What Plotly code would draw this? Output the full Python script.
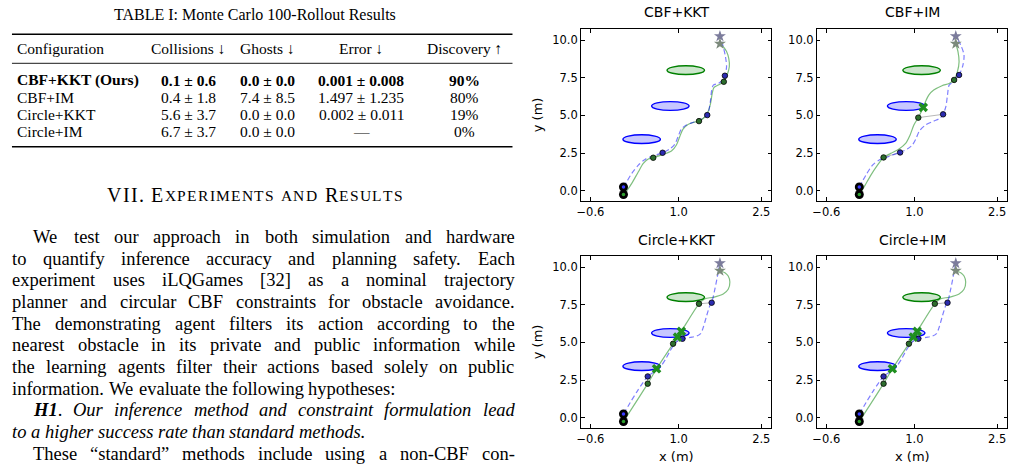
import plotly.graph_objects as go

W, H = 1014, 472


def px(x):
    return x / W


def py(y):
    return 1 - y / H


# ------------------------------------------------------------------ data
table_title = "TABLE I: Monte Carlo 100-Rollout Results"
table_headers = ["Configuration", "Collisions ↓", "Ghosts ↓", "Error ↓", "Discovery ↑"]
configs = ["CBF+KKT (Ours)", "CBF+IM", "Circle+KKT", "Circle+IM"]
collisions = ["0.1 ± 0.6", "0.4 ± 1.8", "5.6 ± 3.7", "6.7 ± 3.7"]
ghosts = ["0.0 ± 0.0", "7.4 ± 8.5", "0.0 ± 0.0", "0.0 ± 0.0"]
errors = ["0.001 ± 0.008", "1.497 ± 1.235", "0.002 ± 0.011", "—"]
discovery = ["90%", "80%", "19%", "0%"]

section_heading = "VII. Experiments and Results"

body_text = [
    "We test our approach in both simulation and hardware",
    "to quantify inference accuracy and planning safety. Each",
    "experiment uses iLQGames [32] as a nominal trajectory",
    "planner and circular CBF constraints for obstacle avoidance.",
    "The demonstrating agent filters its action according to the",
    "nearest obstacle in its private and public information while",
    "the learning agents filter their actions based solely on public",
    "information. We evaluate the following hypotheses:",
    "H1. Our inference method and constraint formulation lead",
    "to a higher success rate than standard methods.",
    "These “standard” methods include using a non-CBF con-",
]

panel_titles = ["CBF+KKT", "CBF+IM", "Circle+KKT", "Circle+IM"]
x_ticks = [-0.6, 1.0, 2.5]
x_tick_text = ["−0.6", "1.0", "2.5"]
y_ticks = [0.0, 2.5, 5.0, 7.5, 10.0]
y_tick_text = ["0.0", "2.5", "5.0", "7.5", "10.0"]

obstacle_x = [0.33, 0.85, 1.13]
obstacle_y = [3.42, 5.62, 8.00]
obstacle_rx = [0.34, 0.34, 0.34]
obstacle_ry = [0.29, 0.29, 0.29]
obstacle_kind = ["public", "public", "private"]

start_x = [0.0, 0.0]        # blue agent, green agent
start_y = [0.25, -0.25]
goal_x = [1.75, 1.75]
goal_y = [10.25, 9.75]

# --- CBF+KKT
cbfkkt_green_x = [0.00, 0.06, 0.15, 0.27, 0.36, 0.45, 0.54, 0.72, 0.87, 0.96, 1.02, 1.08, 1.17,
                  1.27, 1.37, 1.48, 1.54, 1.58, 1.61, 1.64, 1.72, 1.82, 1.88, 1.92, 1.91, 1.87,
                  1.81, 1.75]
cbfkkt_green_y = [-0.25, 0.00, 0.49, 1.26, 1.81, 2.10, 2.19, 2.41, 2.63, 3.03, 3.58, 4.09, 4.40,
                  4.54, 4.62, 4.91, 5.29, 5.80, 6.46, 6.84, 7.01, 7.23, 7.68, 8.23, 8.78, 9.23,
                  9.56, 9.75]
cbfkkt_blue_x = [0.00, 0.06, 0.15, 0.27, 0.39, 0.54, 0.71, 0.84, 0.93, 0.99, 1.05, 1.14, 1.27,
                 1.42, 1.52, 1.55, 1.58, 1.60, 1.63, 1.72, 1.81, 1.84, 1.87, 1.85, 1.81, 1.75]
cbfkkt_blue_y = [0.25, 0.60, 1.15, 1.70, 2.08, 2.32, 2.52, 2.77, 3.08, 3.58, 4.09, 4.36, 4.54,
                 4.76, 5.02, 5.35, 6.02, 6.68, 7.01, 7.12, 7.35, 7.63, 8.23, 8.89, 9.56, 10.25]
cbfkkt_gdot_x = [0.54, 1.37, 1.82]
cbfkkt_gdot_y = [2.19, 4.62, 7.23]
cbfkkt_bdot_x = [0.71, 1.52, 1.84]
cbfkkt_bdot_y = [2.52, 5.02, 7.63]
cbfkkt_hit_x = []
cbfkkt_hit_y = []

# --- CBF+IM
cbfim_green_x = [0.00, 0.09, 0.21, 0.33, 0.44, 0.57, 0.72, 0.84, 0.92, 0.99, 1.07, 1.12, 1.16,
                 1.20, 1.26, 1.35, 1.50, 1.63, 1.72, 1.78, 1.81, 1.79, 1.75]
cbfim_green_y = [-0.25, 0.27, 1.04, 1.70, 2.21, 2.48, 2.77, 3.14, 3.69, 4.36, 4.85, 5.20, 5.53,
                 5.91, 6.35, 6.68, 6.97, 7.12, 7.35, 7.90, 8.56, 9.23, 9.75]
cbfim_blue_x = [0.00, 0.12, 0.24, 0.36, 0.48, 0.60, 0.74, 0.87, 0.96, 1.03, 1.09, 1.20, 1.35,
                1.46, 1.52, 1.57, 1.60, 1.63, 1.69, 1.81, 1.88, 1.90, 1.84, 1.75]
cbfim_blue_y = [0.25, 1.04, 1.70, 2.04, 2.19, 2.37, 2.54, 2.77, 3.03, 3.47, 3.96, 4.36, 4.62,
                4.80, 5.07, 5.58, 6.35, 7.01, 7.19, 7.68, 8.34, 9.00, 9.67, 10.25]
cbfim_gdot_x = [0.44, 1.07, 1.72]
cbfim_gdot_y = [2.21, 4.85, 7.35]
cbfim_bdot_x = [0.74, 1.52, 1.81]
cbfim_bdot_y = [2.54, 5.07, 7.68]
cbfim_hit_x = [1.16]
cbfim_hit_y = [5.53]

# --- Circle+KKT
circkkt_green_x = [0.00, 0.44, 0.60, 0.90, 0.98, 1.05, 1.37, 1.48, 1.63, 1.81, 1.90, 1.93, 1.90,
                   1.84, 1.75]
circkkt_green_y = [-0.25, 2.26, 3.25, 4.91, 5.35, 5.73, 7.56, 7.90, 7.99, 8.21, 8.52, 9.00, 9.40,
                   9.62, 9.75]
circkkt_blue_x = [0.00, 0.44, 0.63, 0.69, 0.77, 0.84, 0.93, 0.99, 1.07, 1.21, 1.33, 1.40, 1.45,
                  1.51, 1.57, 1.60, 1.66, 1.72, 1.75]
circkkt_blue_y = [0.25, 2.74, 3.21, 3.47, 3.92, 4.40, 4.91, 5.13, 5.24, 5.33, 5.42, 5.58, 6.02,
                  6.79, 7.46, 7.63, 8.56, 9.67, 10.25]
circkkt_gdot_x = [0.44, 0.90, 1.37]
circkkt_gdot_y = [2.26, 4.91, 7.56]
circkkt_bdot_x = [0.44, 1.07, 1.60]
circkkt_bdot_y = [2.74, 5.24, 7.63]
circkkt_hit_x = [0.60, 0.98, 1.05]
circkkt_hit_y = [3.25, 5.35, 5.73]

# --- Circle+IM (same rollout as Circle+KKT in the picture)
circim_green_x = list(circkkt_green_x)
circim_green_y = list(circkkt_green_y)
circim_blue_x = list(circkkt_blue_x)
circim_blue_y = list(circkkt_blue_y)
circim_gdot_x = [0.44, 0.90, 1.37]
circim_gdot_y = [2.26, 4.91, 7.56]
circim_bdot_x = [0.44, 1.07, 1.60]
circim_bdot_y = [2.74, 5.24, 7.63]
circim_hit_x = [0.60, 0.98, 1.05]
circim_hit_y = [3.25, 5.35, 5.73]

panels = [
    (cbfkkt_green_x, cbfkkt_green_y, cbfkkt_blue_x, cbfkkt_blue_y, cbfkkt_gdot_x, cbfkkt_gdot_y,
     cbfkkt_bdot_x, cbfkkt_bdot_y, cbfkkt_hit_x, cbfkkt_hit_y),
    (cbfim_green_x, cbfim_green_y, cbfim_blue_x, cbfim_blue_y, cbfim_gdot_x, cbfim_gdot_y,
     cbfim_bdot_x, cbfim_bdot_y, cbfim_hit_x, cbfim_hit_y),
    (circkkt_green_x, circkkt_green_y, circkkt_blue_x, circkkt_blue_y, circkkt_gdot_x,
     circkkt_gdot_y, circkkt_bdot_x, circkkt_bdot_y, circkkt_hit_x, circkkt_hit_y),
    (circim_green_x, circim_green_y, circim_blue_x, circim_blue_y, circim_gdot_x, circim_gdot_y,
     circim_bdot_x, circim_bdot_y, circim_hit_x, circim_hit_y),
]

# ------------------------------------------------------------------ styles / layout
SERIF = "Liberation Serif"
SANS = "DejaVu Sans"
X_RANGE = [-0.768, 2.68]
Y_RANGE = [-0.66, 10.73]
COL_PX = [(579, 770), (816, 1007)]
ROW_PX = [(29, 200.7), (256, 427.7)]

fig = go.Figure()
annotations = []
shapes = []

# ---- text width tables (Times metrics, 1/1000 em) for justification
TR = {' ': 250, '!': 333, '"': 408, '%': 833, '(': 333, ')': 333, '+': 564, ',': 250, '-': 333,
      '.': 250, '/': 278, ':': 278, ';': 278, '[': 333, ']': 333, '“': 444, '”': 444, '?': 444}
for ch in "0123456789":
    TR[ch] = 500
TR.update(dict(zip("ABCDEFGHIJKLMNOPQRSTUVWXYZ",
                   [722, 667, 667, 722, 611, 556, 722, 722, 333, 389, 722, 611, 889, 722, 722, 556,
                    722, 667, 556, 611, 722, 722, 944, 722, 722, 611])))
TR.update(dict(zip("abcdefghijklmnopqrstuvwxyz",
                   [444, 500, 444, 500, 444, 333, 500, 500, 278, 278, 500, 278, 778, 500, 500, 500,
                    500, 333, 389, 278, 500, 500, 722, 500, 500, 444])))
TI = dict(TR)
TI.update(dict(zip("abcdefghijklmnopqrstuvwxyz",
                   [500, 500, 444, 500, 444, 278, 500, 500, 278, 278, 444, 278, 722, 500, 500, 500,
                    500, 389, 389, 278, 500, 444, 667, 444, 444, 389])))
TI.update({'O': 722, 'H': 722})
TBI = dict(TI)
TBI.update({'H': 778, '1': 500})
TABLES = {'r': TR, 'i': TI, 'bi': TBI}


def seg_width(text, style, size):
    tab = TABLES[style]
    return sum(tab.get(c, 500) for c in text) * size / 1000.0


def seg_html(text, style):
    if style == 'i':
        return "<i>%s</i>" % text
    if style == 'bi':
        return "<b><i>%s</i></b>" % text
    return text


def text_ann(x, y, text, size, family=SERIF, xanchor='left', color='black', **kw):
    d = dict(x=px(x), y=py(y), xref='paper', yref='paper', text=text, showarrow=False,
             xanchor=xanchor, yanchor='middle', borderpad=0, borderwidth=0,
             font=dict(family=family, size=size, color=color))
    d.update(kw)
    annotations.append(d)


# ---- table
text_ann(251, 14, table_title, 16, xanchor='center')
TABLE_FS = 15.5
col_centers = [None, 184, 264, 358, 462]
rule_left, rule_right = 7, 510
for yy, wdt in [(34.3, 1.6), (63.3, 0.9), (146.7, 1.6)]:
    shapes.append(dict(type='line', xref='paper', yref='paper', x0=px(rule_left), x1=px(rule_right),
                       y0=py(yy), y1=py(yy), line=dict(color='black', width=wdt)))
header_y = 48.5
text_ann(12, header_y, table_headers[0], TABLE_FS)
for c in range(1, 5):
    text_ann(col_centers[c], header_y, table_headers[c], TABLE_FS, xanchor='center')
row_y = [80.3, 97.3, 114.6, 131.6]
for r in range(4):
    vals = [collisions[r], ghosts[r], errors[r], discovery[r]]
    cfg = configs[r]
    if r == 0:
        cfg = "<b>%s</b>" % cfg
        vals = ["<b>%s</b>" % v for v in vals]
    text_ann(12, row_y[r], cfg, TABLE_FS)
    for c in range(4):
        text_ann(col_centers[c + 1], row_y[r], vals[c], TABLE_FS, xanchor='center')

# ---- section heading in small caps, laid out letter by letter
CAP_FS, SC_FS, TRACK = 20, 15.5, 1.3
letters = []
for ch in section_heading:
    if ch.islower():
        letters.append((ch.upper(), SC_FS))
    else:
        letters.append((ch, CAP_FS))
total = sum(seg_width(c, 'r', s) for c, s in letters) + TRACK * (len(letters) - 1)
hx = 251 - total / 2
for c, s in letters:
    if c != ' ':
        text_ann(hx, 195 + (0.9 if s == SC_FS else 0), c, s)
    hx += seg_width(c, 'r', s) + TRACK

# ---- body text (justified word by word)
BODY_FS = 18.5
LEFT, RIGHT, INDENT = 7.5, 512, 28.3
line_y0, line_dy = 237, 21.65
indent_lines = {0, 8, 10}
ragged_lines = {7, 9}
italic_lines = {9}
for k, line in enumerate(body_text):
    words = []
    for w in line.split(' '):
        if k == 8 and w == 'H1.':
            words.append([('H1', 'bi'), ('.', 'r')])
        elif k == 8 or k in italic_lines:
            words.append([(w, 'i')])
        else:
            words.append([(w, 'r')])
    widths = [sum(seg_width(t, s, BODY_FS) for t, s in wd) for wd in words]
    x0 = INDENT if k in indent_lines else LEFT
    if k in ragged_lines or len(words) < 2:
        gap = 250 * BODY_FS / 1000.0
    else:
        gap = (RIGHT - x0 - sum(widths)) / (len(words) - 1)
    xx = x0
    yy = line_y0 + k * line_dy
    for wd, wdt in zip(words, widths):
        html = ''.join(seg_html(t, s) for t, s in wd)
        text_ann(xx, yy, html, BODY_FS)
        xx += wdt + gap

# ---- subplot axes
layout_axes = {}
for i in range(4):
    col, row = i % 2, i // 2
    sfx = '' if i == 0 else str(i + 1)
    xd = [px(COL_PX[col][0]), px(COL_PX[col][1])]
    yd = [py(ROW_PX[row][1]), py(ROW_PX[row][0])]
    common = dict(showline=True, linecolor='black', linewidth=1, mirror='ticks', ticks='inside',
                  ticklen=3.5, tickwidth=1, tickcolor='black', showgrid=False, zeroline=False,
                  tickfont=dict(family=SANS, size=11.5, color='black'), fixedrange=True)
    layout_axes['xaxis' + sfx] = dict(domain=xd, range=X_RANGE, anchor='y' + sfx, tickmode='array',
                                      tickvals=x_ticks, ticktext=x_tick_text, **common)
    layout_axes['yaxis' + sfx] = dict(domain=yd, range=Y_RANGE, anchor='x' + sfx, tickmode='array',
                                      tickvals=y_ticks, ticktext=y_tick_text, **common)
    cx = (COL_PX[col][0] + COL_PX[col][1]) / 2
    text_ann(cx, 12.5 if row == 0 else 240, panel_titles[i], 14, family=SANS, xanchor='center')
    if col == 0:
        text_ann(535, (ROW_PX[row][0] + ROW_PX[row][1]) / 2, "y (m)", 13, family=SANS,
                 xanchor='center', textangle=-90)
    if row == 1:
        text_ann(cx, 456, "x (m)", 13, family=SANS, xanchor='center')

    xa, ya = 'x' + sfx, 'y' + sfx
    for ox, oy, rx, ry, kind in zip(obstacle_x, obstacle_y, obstacle_rx, obstacle_ry, obstacle_kind):
        if kind == 'public':
            fc, lc = 'rgba(0,0,255,0.22)', '#0000ff'
        else:
            fc, lc = 'rgba(0,128,0,0.2)', '#008000'
        shapes.append(dict(type='circle', xref=xa, yref=ya, x0=ox - rx, x1=ox + rx, y0=oy - ry,
                           y1=oy + ry, fillcolor=fc, line=dict(color=lc, width=1.4), layer='below'))

    (gx, gy, bx, by, gdx, gdy, bdx, bdy, hx_, hy_) = panels[i]
    lx, ly = [], []
    for a, b, c, d in zip(gdx, gdy, bdx, bdy):
        lx += [a, c, None]
        ly += [b, d, None]
    base = dict(xaxis=xa, yaxis=ya, hoverinfo='skip', showlegend=False)
    fig.add_trace(go.Scatter(x=lx, y=ly, mode='lines', line=dict(color='#b8b8b8', width=1), **base))
    fig.add_trace(go.Scatter(x=gx, y=gy, mode='lines',
                             line=dict(color='rgba(0,128,0,0.5)', width=1.2, shape='spline',
                                       smoothing=0.8), **base))
    fig.add_trace(go.Scatter(x=bx, y=by, mode='lines',
                             line=dict(color='rgba(0,0,255,0.5)', width=1.2, dash='5px,3px',
                                       shape='spline', smoothing=0.8), **base))
    fig.add_trace(go.Scatter(x=start_x, y=start_y, mode='markers',
                             marker=dict(color='black', size=9), **base))
    fig.add_trace(go.Scatter(x=start_x, y=start_y, mode='markers',
                             marker=dict(color=['#3a3aff', '#2e9e2e'], size=3.5), **base))
    fig.add_trace(go.Scatter(x=goal_x, y=goal_y, mode='markers',
                             marker=dict(symbol='star', size=9, color=['#7c7c9c', '#7c8a7c'],
                                         line=dict(width=0)), **base))
    fig.add_trace(go.Scatter(x=gdx, y=gdy, mode='markers',
                             marker=dict(color='#2d6e2d', size=5.5, line=dict(color='black', width=0.8)),
                             **base))
    fig.add_trace(go.Scatter(x=bdx, y=bdy, mode='markers',
                             marker=dict(color='#2b2bb0', size=5.5, line=dict(color='black', width=0.8)),
                             **base))
    if hx_:
        fig.add_trace(go.Scatter(x=hx_, y=hy_, mode='markers',
                                 marker=dict(symbol='x', size=8.5, color='#1f8f1f',
                                             line=dict(width=0)), **base))

fig.update_layout(width=W, height=H, margin=dict(l=0, r=0, t=0, b=0), paper_bgcolor='white',
                  plot_bgcolor='white', showlegend=False, annotations=annotations, shapes=shapes,
                  **layout_axes)

fig.write_html("out.html")
